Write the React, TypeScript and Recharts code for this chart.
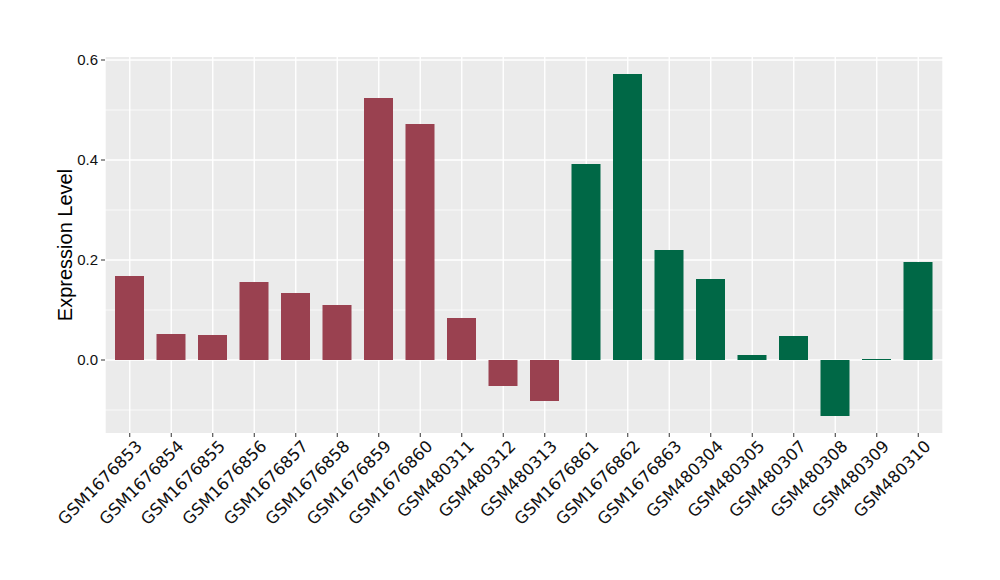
import { BarChart, Bar, XAxis, YAxis, CartesianGrid, Cell } from "recharts";

const samples = [
  "GSM1676853", "GSM1676854", "GSM1676855", "GSM1676856", "GSM1676857",
  "GSM1676858", "GSM1676859", "GSM1676860", "GSM480311", "GSM480312",
  "GSM480313", "GSM1676861", "GSM1676862", "GSM1676863", "GSM480304",
  "GSM480305", "GSM480307", "GSM480308", "GSM480309", "GSM480310",
];
const expression = [
  0.168, 0.052, 0.05, 0.156, 0.134, 0.11, 0.524, 0.472, 0.084, -0.052,
  -0.082, 0.392, 0.572, 0.22, 0.162, 0.01, 0.048, -0.112, 0.002, 0.196,
];
const groups = [
  "A", "A", "A", "A", "A", "A", "A", "A", "A", "A",
  "A", "B", "B", "B", "B", "B", "B", "B", "B", "B",
];
const yTicks = [0, 0.2, 0.4, 0.6];
const yMinor = [-0.1, 0.1, 0.3, 0.5];

const groupColor: Record<string, string> = { A: "#9A4150", B: "#006846" };

const data = samples.map((name, i) => ({ name, value: expression[i], group: groups[i] }));

const font = "'Liberation Sans', Arial, sans-serif";

function XTick({ x, y, payload }: any) {
  return (
    <g transform={`translate(${x + 5},${y})`}>
      <text
        textAnchor="end"
        dy="0.72em"
        transform="rotate(-45)"
        fontSize={16.5}
        fontFamily="'DejaVu Sans', sans-serif"
        fill="#111"
      >
        {payload.value}
      </text>
    </g>
  );
}

export default function App() {
  return (
    <div style={{ position: "absolute", left: 0, top: 0, background: "#fff" }}>
      <BarChart
        width={1000}
        height={580}
        data={data}
        margin={{ top: 57, right: 57, bottom: 0, left: 0 }}
        barSize={29}
      >
        <CartesianGrid
          fill="#EBEBEB"
          stroke="#ffffff"
          strokeWidth={0.7}
          vertical={false}
          horizontalValues={yMinor}
        />
        <CartesianGrid
          stroke="#ffffff"
          strokeWidth={1.4}
          horizontalValues={yTicks}
        />
        <XAxis
          dataKey="name"
          interval={0}
          height={147}
          padding={{ left: 4, right: 4 }}
          axisLine={false}
          tickSize={4}
          tickLine={{ stroke: "#333333" }}
          tick={<XTick />}
        />
        <YAxis
          width={105}
          type="number"
          domain={[-0.146, 0.606]}
          ticks={yTicks}
          allowDataOverflow
          axisLine={false}
          tickSize={4}
          tickMargin={3}
          tickLine={{ stroke: "#333333" }}
          tickFormatter={(v: number) => v.toFixed(1)}
          tick={{ fontSize: 15, fontFamily: font, fill: "#111" }}
          label={{
            content: () => (
              <text
                x={65}
                y={245}
                transform="rotate(-90,65,245)"
                textAnchor="middle"
                dominantBaseline="central"
                fontSize={20}
                fontFamily={font}
                fill="#000"
              >
                Expression Level
              </text>
            ),
          }}
        />
        <Bar dataKey="value" isAnimationActive={false}>
          {data.map((d, i) => (
            <Cell key={i} fill={groupColor[d.group]} />
          ))}
        </Bar>
      </BarChart>
    </div>
  );
}
